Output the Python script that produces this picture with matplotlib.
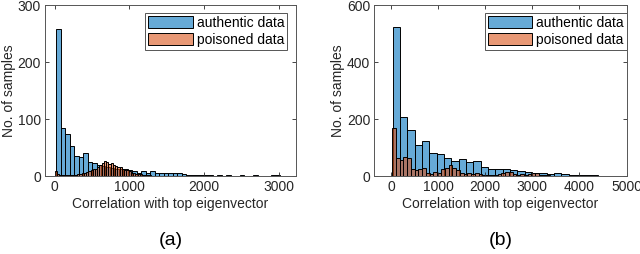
import matplotlib
matplotlib.use("Agg")
import matplotlib.pyplot as plt
import numpy as np

plt.rcParams["font.family"] = ["Liberation Sans", "DejaVu Sans"]

# ---- panel (a) ----
a_auth_start, a_auth_width = 20, 60
a_auth_counts = [258, 85, 73, 53, 36, 34, 40, 25, 23, 20, 18, 16, 14, 13, 12, 12,
                 10, 9, 6, 8, 5, 8, 5, 6, 5, 6, 5, 6, 4, 2, 1, 1, 1, 1, 1, 0,
                 1, 0, 1, 0, 0, 1, 0, 0, 1, 0, 0, 0, 1, 1]
a_pois_start, a_pois_width = 0, 30
a_pois_counts = [8, 3, 1, 1, 1, 1, 1, 2, 2, 2, 3, 3, 5, 6, 7, 9, 10, 12, 13, 16,
                 19, 22, 27, 25, 21, 22, 20, 18, 16, 15, 13, 11, 10, 8, 6, 6, 4,
                 3, 3, 2, 1, 1, 1]

# ---- panel (b) ----
b_auth_start, b_auth_width = 30, 156
b_auth_counts = [522, 208, 161, 109, 123, 80, 76, 62, 54, 58, 50, 53, 31, 23, 24,
                 23, 21, 16, 13, 12, 12, 8, 9, 8, 5, 4, 3, 2, 1, 1, 1]
b_pois_start, b_pois_width = 20, 80
b_pois_counts = [170, 63, 56, 66, 62, 24, 20, 23, 29, 12, 7, 14, 9, 25, 28, 37,
                 27, 21, 12, 8, 9, 7, 10, 8, 5, 4, 5, 4, 6, 10, 15, 14, 8, 5, 6,
                 5, 7, 12, 12, 5, 3, 2, 1, 1]

panels = [
    dict(auth=(a_auth_start, a_auth_width, a_auth_counts),
         pois=(a_pois_start, a_pois_width, a_pois_counts),
         xlim=(-130, 3230), xticks=[0, 1000, 2000, 3000],
         ylim=(0, 300), yticks=[0, 100, 200, 300],
         pos=[0.0703, 0.307, 0.392, 0.673], tag="(a)", leg_x=0.965),
    dict(auth=(b_auth_start, b_auth_width, b_auth_counts),
         pois=(b_pois_start, b_pois_width, b_pois_counts),
         xlim=(-355, 5000), xticks=[0, 1000, 2000, 3000, 4000, 5000],
         ylim=(0, 600), yticks=[0, 200, 400, 600],
         pos=[0.585, 0.307, 0.394, 0.673], tag="(b)", leg_x=1.0),
]

blue = (0.0, 0.447, 0.741, 0.6)
orange = (0.85, 0.325, 0.098, 0.6)
txt = "#262626"

fig = plt.figure(figsize=(6.4, 2.54), dpi=100)

for p in panels:
    ax = fig.add_axes(p["pos"])
    for (start, width, counts), col, lab in [(p["auth"], blue, "authentic data"),
                                             (p["pois"], orange, "poisoned data")]:
        counts = np.array(counts)
        edges = start + width * np.arange(len(counts))
        ax.bar(edges, counts, width=width, align="edge", facecolor=col,
               edgecolor="black", linewidth=0.7, label=lab)
    ax.set_xlim(*p["xlim"])
    ax.set_ylim(*p["ylim"])
    ax.set_xticks(p["xticks"])
    ax.set_yticks(p["yticks"])
    ax.tick_params(direction="in", length=3, width=0.6, top=True, right=True,
                   labelsize=10, colors=txt, pad=3)
    for s in ax.spines.values():
        s.set_color("#555555")
        s.set_linewidth(0.7)
    ax.set_xlabel("Correlation with top eigenvector", fontsize=10, color=txt, labelpad=2)
    ax.set_ylabel("No. of samples", fontsize=10, color=txt, labelpad=1)
    leg = ax.legend(loc="upper right", bbox_to_anchor=(p["leg_x"], 0.955),
                    fontsize=10, fancybox=False, framealpha=1, edgecolor="#555555",
                    handlelength=3.2, handleheight=1.0, borderpad=0.2,
                    labelspacing=0.25, handletextpad=0.3, borderaxespad=0.0)
    leg.get_frame().set_linewidth(0.7)
    fig.text(p["pos"][0] + p["pos"][2] / 2, 0.055, p["tag"], ha="center",
             va="center", fontsize=14, color="black")

fig.savefig("out.png", dpi=100)
